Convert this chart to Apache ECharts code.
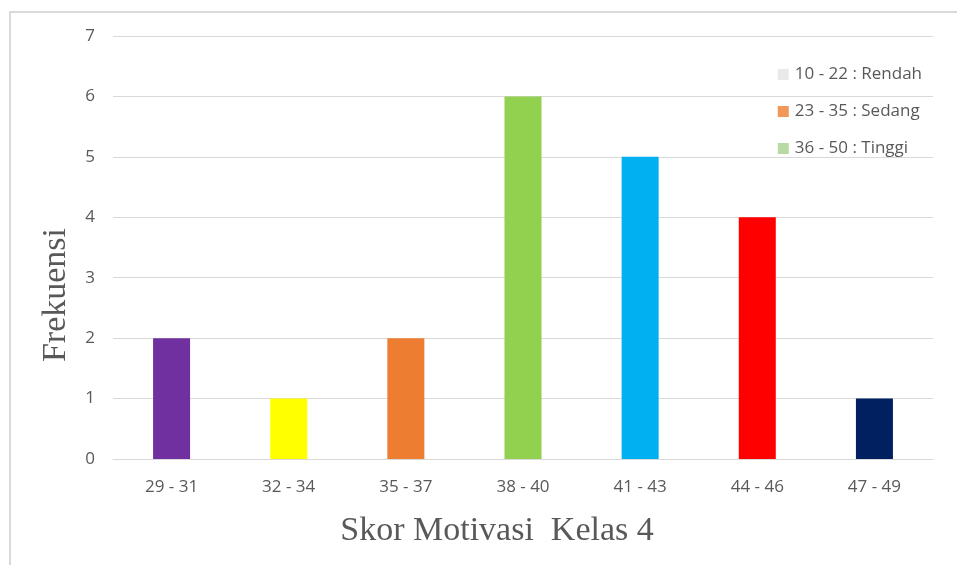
<!DOCTYPE html>
<html>
<head>
<meta charset="utf-8">
<script src="https://cdn.jsdelivr.net/npm/echarts@6/dist/echarts.min.js"></script>
<style>
  body { margin: 0; background: #fff; }
  #frame { position: absolute; left: 9px; top: 11px; width: 960px; height: 570px; border: 2px solid #d9d9d9; box-sizing: border-box; }
  #main { position: absolute; left: 0; top: 0; width: 957px; height: 565px; }
</style>
</head>
<body>
<div id="frame"></div>
<div id="main"></div>
<script type="text/javascript">
var categories = ['29 - 31', '32 - 34', '35 - 37', '38 - 40', '41 - 43', '44 - 46', '47 - 49'];
var frekuensi = [2, 1, 2, 6, 5, 4, 1];
var barColors = ['#7030A0', '#FFFF00', '#ED7D31', '#92D050', '#00B0F0', '#FF0000', '#002060'];
var legendNames = ['10 - 22 : Rendah', '23 - 35 : Sedang', '36 - 50 : Tinggi'];
var legendColors = ['#E3E3E3', '#ED7D31', '#A9D18E'];

var myChart = echarts.init(document.getElementById('main'));

var series = [{
    name: 'Frekuensi',
    type: 'bar',
    barWidth: 37,
    data: frekuensi.map(function (v, i) {
        return { value: v, itemStyle: { color: barColors[i] } };
    }),
    z: 3
}];
legendNames.forEach(function (n, i) {
    series.push({ name: n, type: 'scatter', data: [], itemStyle: { color: legendColors[i] } });
});

var labelFont = { fontFamily: 'Open Sans', fontSize: 17, color: '#595959' };

myChart.setOption({
    animation: false,
    grid: { left: 113, right: 24, top: 36, bottom: 106 },
    legend: {
        orient: 'vertical',
        right: 30,
        top: 61,
        icon: 'rect',
        itemWidth: 11,
        itemHeight: 11,
        itemGap: 20,
        data: legendNames,
        textStyle: { fontFamily: 'Open Sans', fontSize: 17, color: '#595959', padding: [0, 0, 0, 1] }
    },
    graphic: [
        {
            type: 'text', x: 497, y: 531,
            style: { text: 'Skor Motivasi  Kelas 4', fontFamily: 'Liberation Serif', fontSize: 34, fill: '#595959', align: 'center', verticalAlign: 'middle' }
        },
        {
            type: 'text', x: 56, y: 295, rotation: Math.PI / 2,
            style: { text: 'Frekuensi', fontFamily: 'Liberation Serif', fontSize: 34, fill: '#595959', align: 'center', verticalAlign: 'middle' }
        }
    ],
    xAxis: {
        type: 'category',
        data: categories,
        axisLine: { lineStyle: { color: '#d9d9d9' } },
        axisTick: { show: false },
        axisLabel: Object.assign({ margin: 20 }, labelFont)
    },
    yAxis: {
        type: 'value',
        min: 0,
        max: 7,
        interval: 1,
        axisLine: { show: false },
        axisTick: { show: false },
        splitLine: { lineStyle: { color: '#d9d9d9' } },
        axisLabel: Object.assign({ margin: 18 }, labelFont)
    },
    series: series
});
</script>
</body>
</html>
